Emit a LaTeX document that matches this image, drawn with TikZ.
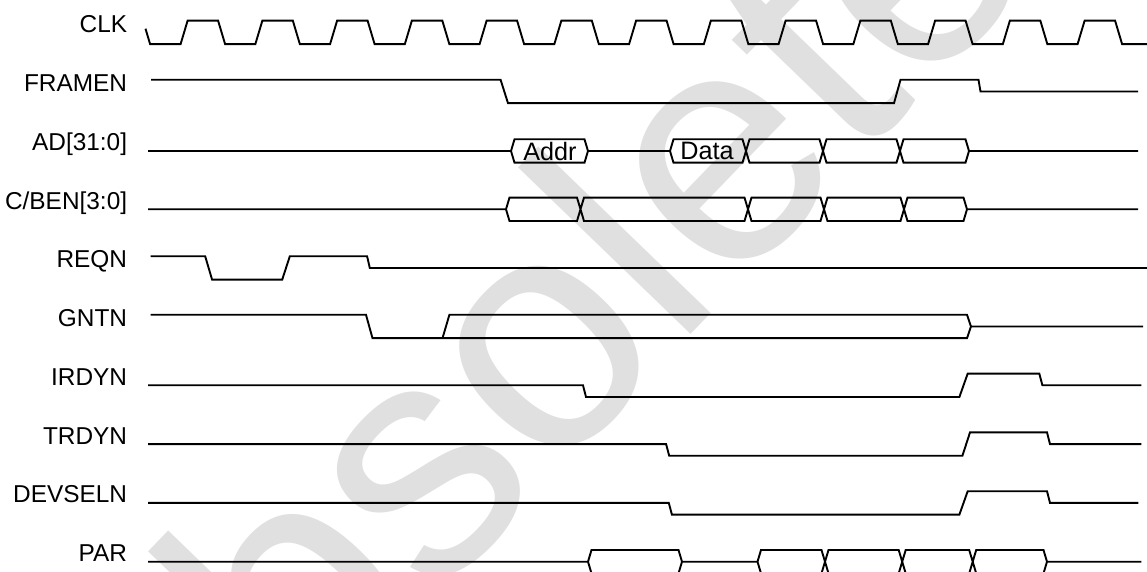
\documentclass[tikz,border=0pt]{standalone}
\usepackage{fontspec}
\setmainfont{Liberation Sans}

\newcommand{\sigfont}{\fontsize{12.2}{14}\selectfont}
\newcommand{\busfont}{\fontsize{12.6}{14}\selectfont}
\newcommand{\stampfont}{\fontsize{165.5}{180}\selectfont}
\newcommand{\swing}{11.7}
% bus value box between two crossing points
\newcommand{\busbox}[2]{(#1,0) -- ++(3.5,-\swing) -- ({#2-3.5},-\swing) -- (#2,0) -- ({#2-3.5},\swing) -- ({#1+3.5},\swing) -- cycle}

\begin{document}
\begin{tikzpicture}[x=0.5pt, y=-0.5pt,
    wave/.style={draw=black, line width=0.95pt},
    siglabel/.style={font=\sigfont, anchor=base east, inner sep=0pt},
    buslabel/.style={font=\busfont, inner sep=0pt},
    stamp/.style={font=\stampfont, text=black!12, rotate=46, inner sep=0pt}
]
\useasboundingbox (0,0) rectangle (1147,572);
\clip (0,0) rectangle (1147,572);

% Watermark
\node[stamp] (stamp) at (501.5,361) {Obsolete};

% CLK
\begin{scope}[shift={(0,32.4)}]
    \node[siglabel] (clk) at (127.5,0) {CLK};
    \draw[wave] (145.5,-3.7) -- (150.1,\swing)
        \foreach \k in {0,...,12} {
            -- ({180.6+74.75*\k},\swing) -- ++(7,-2*\swing)
            -- ({218.1+74.75*\k},-\swing) -- ++(7,2*\swing)
        } -- (1147,\swing);
\end{scope}

% FRAMEN
\begin{scope}[shift={(0,91.5)}]
    \node[siglabel] (framen) at (127.5,0) {FRAMEN};
    \draw[wave] (151,-\swing) -- (500.6,-\swing) -- (508,\swing) -- (894,\swing)
        -- (900.5,-\swing) -- (978.5,-\swing) -- (980.5,0) -- (1138,0);
\end{scope}

% AD[31:0]
\begin{scope}[shift={(0,151)}]
    \node[siglabel] (ad) at (127.5,0) {AD[31:0]};
    \draw[wave] (148,0) -- (511,0) \busbox{511}{588} (588,0) -- (670,0)
        \busbox{670}{746} \busbox{746}{823} \busbox{823}{900} \busbox{900}{969}
        (969,0) -- (1138,0);
    \node[buslabel] (addr) at (550,0) {Addr};
    \node[buslabel] (data) at (707,0) {Data};
\end{scope}

% C/BEN[3:0]
\begin{scope}[shift={(0,209.3)}]
    \node[siglabel] (cben) at (127.5,0) {C/BEN[3:0]};
    \draw[wave] (148,0) -- (506,0) \busbox{506}{580.5} \busbox{580.5}{748}
        \busbox{748}{824} \busbox{824}{904} \busbox{904}{967} (967,0) -- (1138,0);
\end{scope}

% REQN
\begin{scope}[shift={(0,268)}]
    \node[siglabel] (reqn) at (127.5,0) {REQN};
    \draw[wave] (150.5,-\swing) -- (205.2,-\swing) -- (212.1,\swing) -- (282.2,\swing)
        -- (289.8,-\swing) -- (367.1,-\swing) -- (369.8,0) -- (1147,0);
\end{scope}

% GNTN
\begin{scope}[shift={(0,326.5)}]
    \node[siglabel] (gntn) at (127.5,0) {GNTN};
    \draw[wave] (150.5,-\swing) -- (366,-\swing) -- (372.5,\swing) -- (967,\swing)
        -- (971,0) -- (1143,0);
    \draw[wave] (442.5,\swing) -- (449.4,-\swing) -- (967,-\swing) -- (971,0);
\end{scope}

% IRDYN
\begin{scope}[shift={(0,385.3)}]
    \node[siglabel] (irdyn) at (127.5,0) {IRDYN};
    \draw[wave] (148,0) -- (583,0) -- (586,\swing) -- (959.4,\swing) -- (967.7,-\swing)
        -- (1039.3,-\swing) -- (1042.4,0) -- (1141.4,0);
\end{scope}

% TRDYN
\begin{scope}[shift={(0,444.1)}]
    \node[siglabel] (trdyn) at (127.5,0) {TRDYN};
    \draw[wave] (148,0) -- (666.1,0) -- (669.2,\swing) -- (962.4,\swing) -- (970,-\swing)
        -- (1047,-\swing) -- (1050,0) -- (1141.4,0);
\end{scope}

% DEVSELN
\begin{scope}[shift={(0,502.9)}]
    \node[siglabel] (devseln) at (127.5,0) {DEVSELN};
    \draw[wave] (148,0) -- (668.8,0) -- (671.9,\swing) -- (959.4,\swing) -- (967.7,-\swing)
        -- (1047,-\swing) -- (1050,0) -- (1138.3,0);
\end{scope}

% PAR
\begin{scope}[shift={(0,561.7)}]
    \node[siglabel] (par) at (127.5,0) {PAR};
    \draw[wave] (148,0) -- (588,0) \busbox{588}{682} (682,0) -- (757.5,0)
        \busbox{757.5}{825} \busbox{825}{902.2} \busbox{902.2}{972.7} \busbox{972.7}{1047}
        (1047,0) -- (1141.4,0);
\end{scope}

\end{tikzpicture}
\end{document}
